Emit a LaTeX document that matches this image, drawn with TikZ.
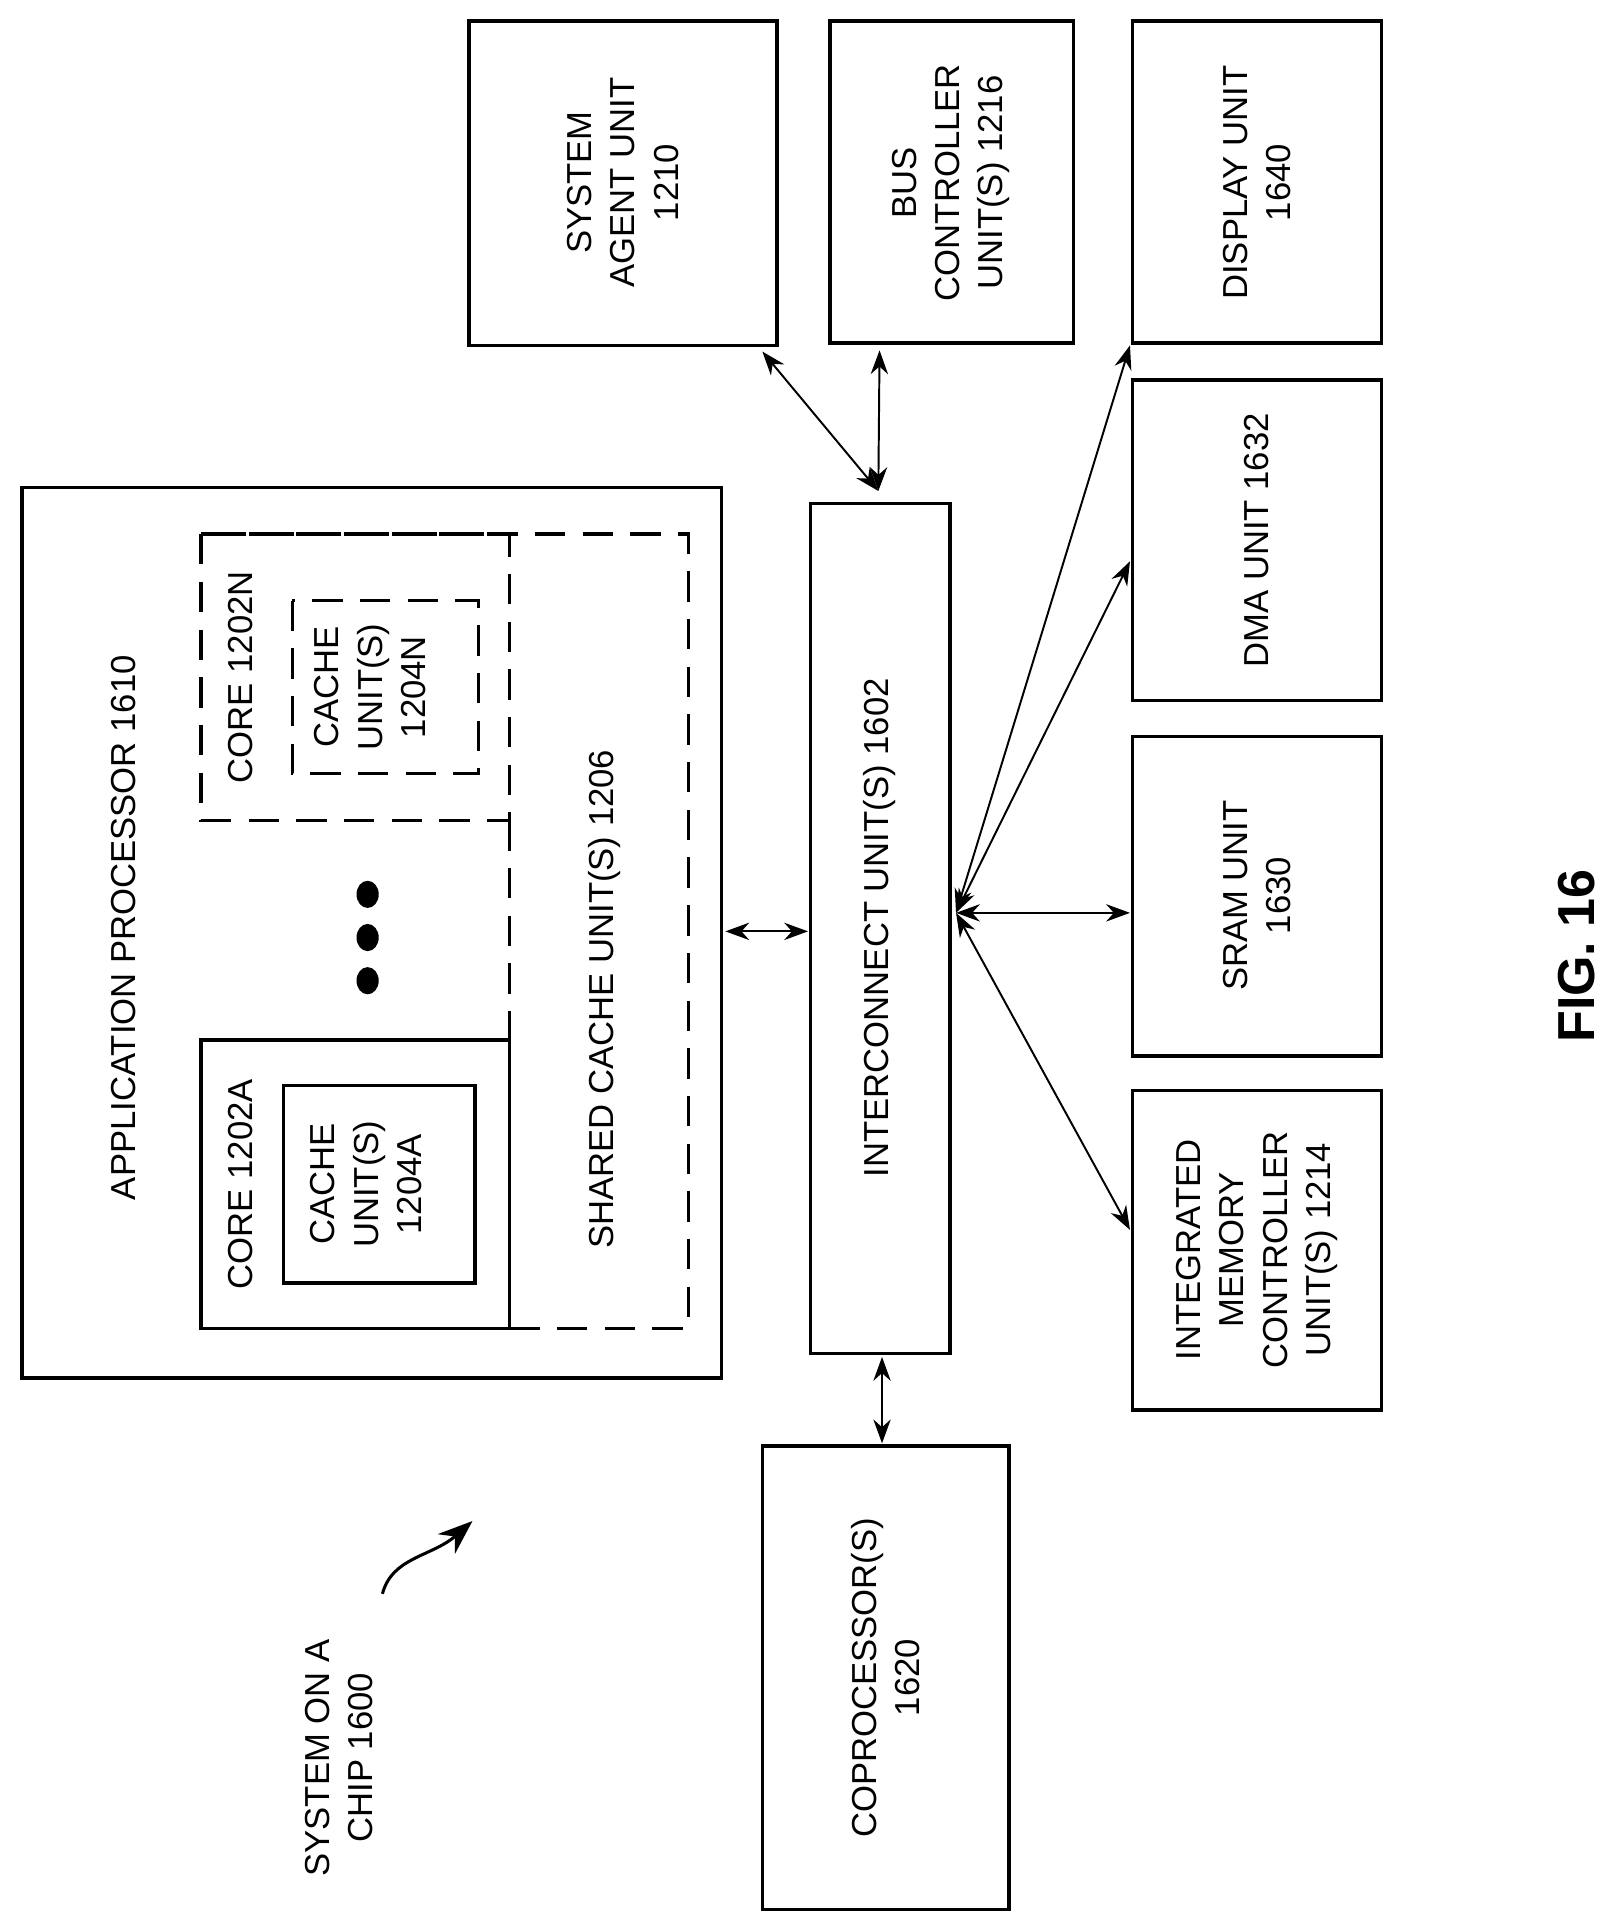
\documentclass[tikz,border=0pt]{standalone}
\usepackage{fontspec}
\setmainfont{Liberation Sans}
\usetikzlibrary{arrows.meta}
\begin{document}
\begin{tikzpicture}[x=0.02cm,y=-0.02cm,
 box/.style={draw,line width=1.6pt},
 dbox/.style={draw,line width=1.6pt,dash pattern=on 14pt off 8pt},
 lbl/.style={rotate=90,align=center,font=\fontsize{16}{20}\selectfont},
 dar/.style={line width=0.9pt,{Stealth[length=11pt,width=8pt]}-{Stealth[length=11pt,width=8pt]}}]
\useasboundingbox (0,0) rectangle (1300,1554);
% top row
\draw[box] (380,17) rectangle (630,280);
\node[lbl] (sa) at (505,148) {SYSTEM\\AGENT UNIT\\1210};
\draw[box] (673,17) rectangle (870,278);
\node[lbl] (bc) at (771,148) {BUS\\CONTROLLER\\UNIT(S) 1216};
\draw[box] (918,17) rectangle (1120,278);
\node[lbl] (du) at (1019,148) {DISPLAY UNIT\\1640};
\draw[box] (918,308) rectangle (1120,568);
\node[lbl] (dma) at (1019,438) {DMA UNIT 1632};
\draw[box] (918,597) rectangle (1120,856);
\node[lbl] (sram) at (1019,726) {SRAM UNIT\\1630};
\draw[box] (918,884) rectangle (1120,1143);
\node[lbl] (imc) at (1019,1013) {INTEGRATED\\MEMORY\\CONTROLLER\\UNIT(S) 1214};
% interconnect
\draw[box] (657,408) rectangle (770,1097);
\node[lbl] (ic) at (713,752) {INTERCONNECT UNIT(S) 1602};
% coprocessor
\draw[box] (618,1172) rectangle (818,1548);
\node[lbl] (cp) at (718,1360) {COPROCESSOR(S)\\1620};
% application processor
\draw[box] (18,395) rectangle (585,1117);
\node[lbl] (ap) at (100,752) {APPLICATION PROCESSOR 1610};
\draw[dbox] (163,433) -- (558,433) -- (558,1077) -- (413,1077);
\draw[dbox] (413,665) -- (413,843);
\node[lbl] (sc) at (490,810) {SHARED CACHE UNIT(S) 1206};
\draw[dbox] (163,433) rectangle (413,665);
\node[lbl] (cn) at (195,549) {CORE 1202N};
\draw[dbox] (237,487) rectangle (388,627);
\node[lbl] (chn) at (300,557) {CACHE\\UNIT(S)\\1204N};
\draw[box,fill=white] (163,843) rectangle (413,1077);
\node[lbl] (ca) at (195,960) {CORE 1202A};
\draw[box] (230,880) rectangle (385,1040);
\node[lbl] (cha) at (297,960) {CACHE\\UNIT(S)\\1204A};
\foreach \yy in {725,760,795} \fill (298,\yy) ellipse (9 and 11);
% system label
\node[lbl] (soc) at (275,1425) {SYSTEM ON A\\CHIP 1600};
\coordinate (s1) at (310,1292);
\coordinate (s2) at (383,1233);
\draw[line width=1.4pt,-{Stealth[length=16pt,width=12pt]}] (s1) .. controls (318,1262) and (350,1262) .. (s2);
% connectors
\coordinate (hubT) at (712,398);
\coordinate (hubR) at (775,740);
\coordinate (saB) at (618,285);
\coordinate (bcB) at (713,284);
\draw[dar] (hubT) -- (saB);
\draw[dar] (hubT) -- (bcB);
\coordinate (apR) at (588,755);
\coordinate (icL) at (655,755);
\draw[dar] (apR) -- (icL);
\coordinate (icB) at (715,1100);
\coordinate (cpT) at (715,1170);
\draw[dar] (icB) -- (cpT);
\coordinate (duL) at (916,280);
\coordinate (dmaL) at (916,455);
\coordinate (sramL) at (916,740);
\coordinate (imcL) at (916,997);
\draw[dar] (hubR) -- (duL);
\draw[dar] (hubR) -- (dmaL);
\draw[dar] (hubR) -- (sramL);
\draw[dar] (hubR) -- (imcL);
\node[rotate=90,font=\bfseries\fontsize{24}{28}\selectfont] (fig) at (1278,775) {FIG. 16};
\end{tikzpicture}
\end{document}
